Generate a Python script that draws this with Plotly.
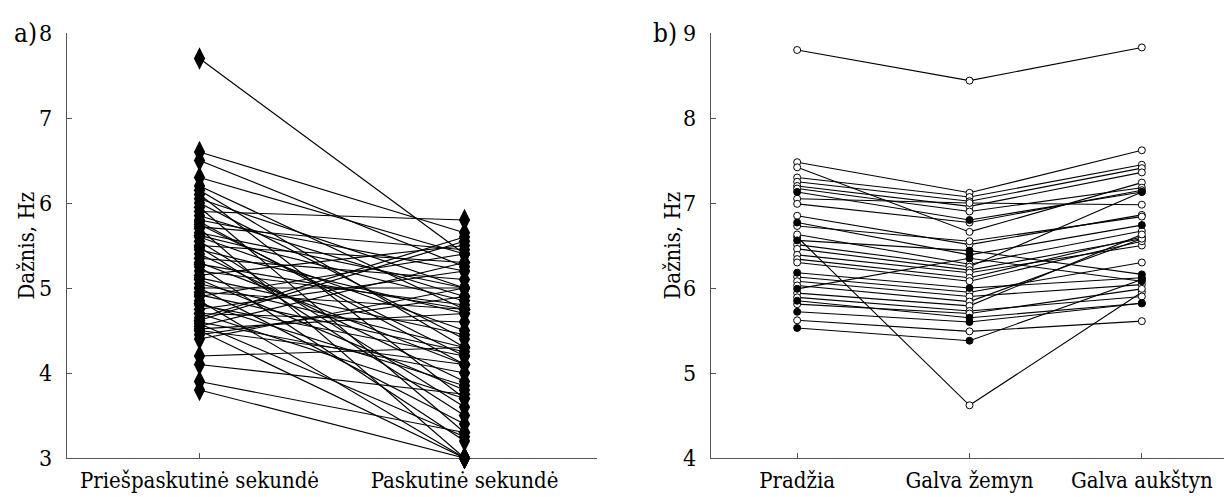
import plotly.graph_objects as go

# ---------------- Data ----------------
# Panel a): paired values (Priešpaskutinė sekundė -> Paskutinė sekundė)
cats_a = ["Priešpaskutinė sekundė", "Paskutinė sekundė"]
a_first = [7.7, 6.6, 6.5, 6.3, 6.2, 6.15, 6.1, 6.05, 6.0, 5.95, 5.9, 5.85, 5.8, 5.78,
           5.75, 5.72, 5.7, 5.65, 5.62, 5.6, 5.55, 5.5, 5.48, 5.45, 5.4, 5.35, 5.3,
           5.28, 5.25, 5.2, 5.15, 5.12, 5.1, 5.05, 5.0, 5.0, 4.95, 4.92, 4.9, 4.85,
           4.82, 4.8, 4.75, 4.7, 4.7, 4.65, 4.62, 4.6, 4.58, 4.55, 4.52, 4.5, 4.5,
           4.45, 4.4, 4.2, 4.1, 3.9, 3.8]
a_last = [5.4, 5.65, 5.25, 5.4, 4.75, 4.3, 3.7, 5.0, 4.4, 3.3, 5.8, 4.9, 5.2, 4.1,
          4.2, 5.45, 3.0, 5.0, 4.85, 4.5, 3.6, 5.3, 3.5, 4.7, 3.9, 5.1, 4.1,
          4.75, 3.2, 4.8, 5.5, 4.45, 3.8, 4.3, 5.0, 3.4, 4.75, 4.25, 5.4, 3.0,
          3.85, 4.2, 5.2, 4.6, 3.7, 5.6, 5.55, 4.0, 3.25, 5.3, 4.7, 4.1, 3.0,
          4.9, 5.0, 4.3, 3.75, 3.3, 3.0]

# Panel b): three conditions per subject
cats_b = ["Pradžia", "Galva žemyn", "Galva aukštyn"]
b_open = [
    [8.80, 8.44, 8.83],
    [6.60, 4.62, 5.95],
    [7.48, 7.12, 7.62],
    [7.42, 6.66, 7.24],
    [7.30, 7.07, 7.45],
    [7.25, 7.02, 7.41],
    [7.20, 6.96, 7.36],
    [7.17, 6.90, 7.18],
    [7.05, 7.00, 6.98],
    [6.99, 6.77, 7.15],
    [6.85, 6.51, 6.86],
    [6.73, 6.55, 6.84],
    [6.63, 6.28, 6.67],
    [6.51, 6.25, 7.13],
    [6.46, 6.21, 6.58],
    [6.39, 6.18, 6.50],
    [6.34, 6.12, 6.60],
    [6.30, 6.08, 6.55],
    [6.13, 5.95, 6.30],
    [6.08, 5.90, 6.04],
    [6.03, 5.84, 6.58],
    [5.94, 5.79, 6.63],
    [5.89, 5.73, 5.90],
    [5.81, 5.70, 5.99],
    [5.62, 5.49, 5.61],
]
b_filled = [
    [7.13, 6.80, 7.13],
    [6.77, 6.39, 6.74],
    [6.56, 6.44, 6.16],
    [6.18, 6.00, 6.12],
    [5.99, 6.35, 6.08],
    [5.85, 5.65, 5.82],
    [5.72, 5.60, 5.82],
    [5.53, 5.38, 6.10],
]

FONT = "DejaVu Serif Condensed, DejaVu Serif, serif"
FS_X = 22
FS_Y = 23
FS_T = 22

fig = go.Figure()

# Panel a lines + diamonds
for v1, v2 in zip(a_first, a_last):
    fig.add_trace(go.Scatter(
        x=[1, 2], y=[v1, v2], mode="lines+markers",
        line=dict(color="black", width=1.2),
        marker=dict(symbol="diamond-tall", size=16, color="black"),
        cliponaxis=False, showlegend=False, hoverinfo="skip",
        xaxis="x", yaxis="y"))

# Panel b lines + circles
for vals in b_open:
    fig.add_trace(go.Scatter(
        x=[1, 2, 3], y=vals, mode="lines+markers",
        line=dict(color="black", width=1.1),
        marker=dict(symbol="circle", size=7, color="white",
                    line=dict(color="black", width=1)),
        cliponaxis=False, showlegend=False, hoverinfo="skip",
        xaxis="x2", yaxis="y2"))
for vals in b_filled:
    fig.add_trace(go.Scatter(
        x=[1, 2, 3], y=vals, mode="lines+markers",
        line=dict(color="black", width=1.1),
        marker=dict(symbol="circle", size=7, color="black",
                    line=dict(color="black", width=1)),
        cliponaxis=False, showlegend=False, hoverinfo="skip",
        xaxis="x2", yaxis="y2"))

L, R, T, B = 59, 12, 24, 33
W, H = 1232, 497
pw = W - L - R

axis_common = dict(
    showline=True, linecolor="#555", linewidth=1.3, mirror=False,
    showgrid=False, zeroline=False, ticks="inside", ticklen=5,
    tickcolor="#555", tickwidth=1.2, layer="below traces",
)
xfont = dict(family=FONT, size=FS_X, color="black")
yfont = dict(family=FONT, size=FS_Y, color="black")

fig.update_layout(
    width=W, height=H,
    margin=dict(l=L, r=R, t=T, b=B),
    plot_bgcolor="white", paper_bgcolor="white",
    font=dict(family=FONT, size=FS_T, color="black"),
    xaxis=dict(domain=[0, 530 / pw], range=[0.5, 2.5], tickvals=[1, 2],
               ticktext=cats_a, anchor="y", ticklabelstandoff=2,
               tickfont=xfont, **axis_common),
    yaxis=dict(domain=[0, 1], range=[3, 8], tickvals=[3, 4, 5, 6, 7, 8],
               anchor="x", ticklabelstandoff=9, tickfont=yfont, **axis_common),
    xaxis2=dict(domain=[644 / pw, 1], range=[0.5, 3.5], tickvals=[1, 2, 3],
                ticktext=cats_b, anchor="y2", ticklabelstandoff=2,
                tickfont=xfont, **axis_common),
    yaxis2=dict(domain=[0, 1], range=[4, 9], tickvals=[4, 5, 6, 7, 8, 9],
                anchor="x2", ticklabelstandoff=9, tickfont=yfont, **axis_common),
    annotations=[
        dict(text="a)", x=(31 - L) / pw, y=1.0, xref="paper", yref="paper",
             xanchor="right", yanchor="middle", showarrow=False,
             font=dict(family=FONT, size=26, color="black")),
        dict(text="b)", x=(671 - L) / pw, y=1.0, xref="paper", yref="paper",
             xanchor="right", yanchor="middle", showarrow=False,
             font=dict(family=FONT, size=26, color="black")),
        dict(text="Dažnis, Hz", x=(18 - L) / pw, y=0.5, xref="paper", yref="paper",
             xanchor="center", yanchor="middle", textangle=-90, showarrow=False,
             font=dict(family=FONT, size=FS_T, color="black")),
        dict(text="Dažnis, Hz", x=(664 - L) / pw, y=0.5, xref="paper", yref="paper",
             xanchor="center", yanchor="middle", textangle=-90, showarrow=False,
             font=dict(family=FONT, size=FS_T, color="black")),
    ],
)

fig.write_html("out.html")
